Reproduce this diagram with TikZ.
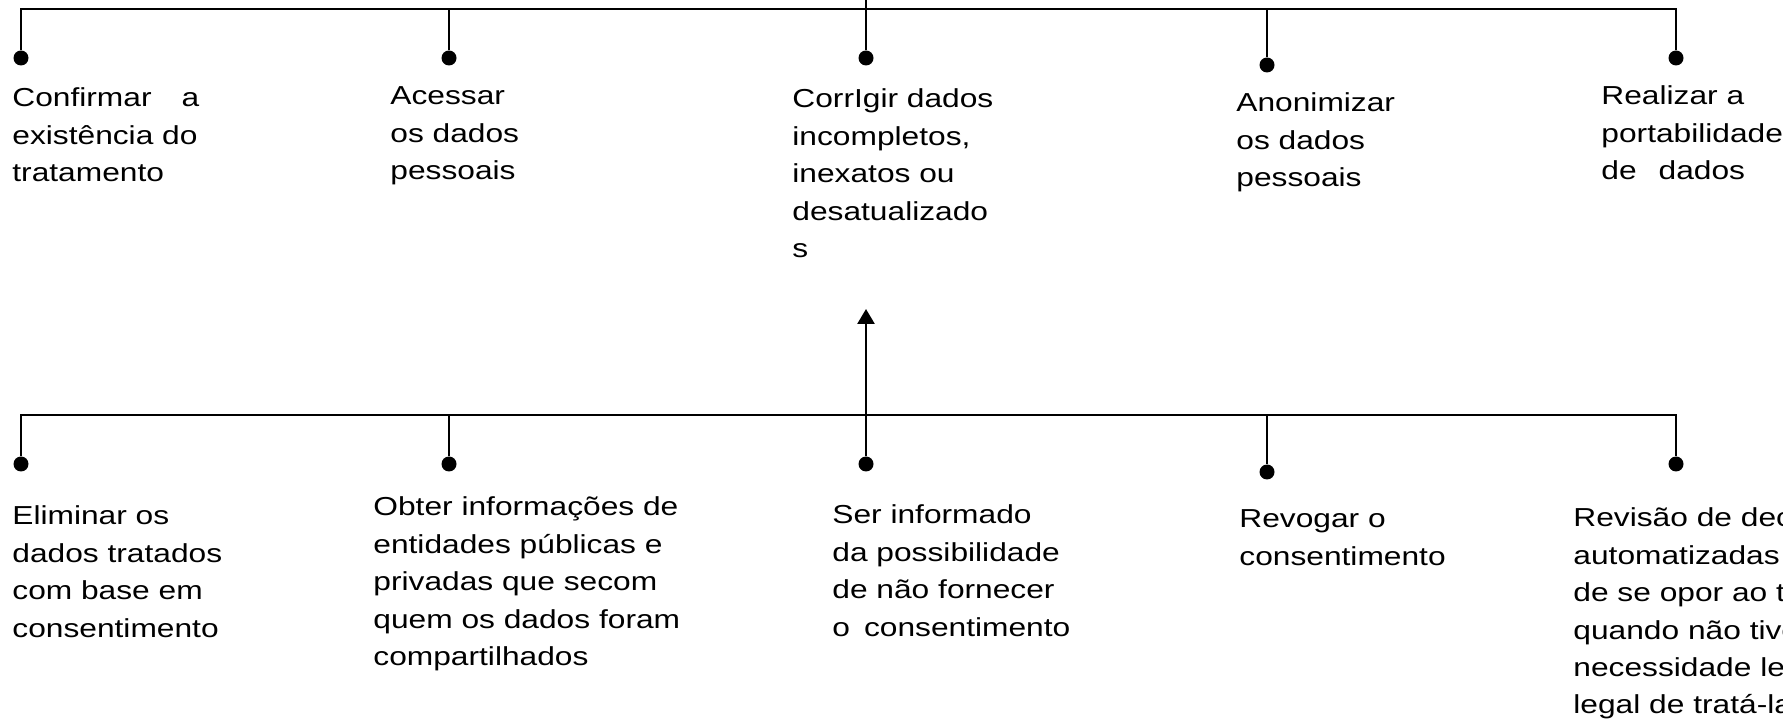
\documentclass[tikz,border=0pt]{standalone}
\usepackage{fontspec}
\setmainfont{Liberation Sans}[FakeStretch=1.22]
\usetikzlibrary{arrows.meta}
\newcommand{\lines}[1]{\begin{tabular}[t]{@{}l@{}}#1\end{tabular}}

\begin{document}
\begin{tikzpicture}[x=0.5pt,y=-0.5pt,
  bus/.style={line width=1.35pt,line cap=rect},
  stem/.style={line width=1pt},
  dot/.style={circle,fill=black,inner sep=0pt,minimum size=7.5pt},
  txt/.style={anchor=base west,inner sep=0pt,
    font=\fontsize{13pt}{18.7pt}\selectfont},
  arr/.style={-{Triangle[length=7.5pt,width=8.5pt]},line width=1.35pt}]
\useasboundingbox (0,0) rectangle (1783,726);
\clip (0,0) rectangle (1783,726);
% upper row
\coordinate (top) at (866,0);
\coordinate (t1) at (21,9);
\coordinate (t2) at (449,9);
\coordinate (t3) at (866,9);
\coordinate (t4) at (1267,9);
\coordinate (t5) at (1676,9);
\node[dot] (dt1) at (21,58) {};
\node[dot] (dt2) at (449,58) {};
\node[dot] (dt3) at (866,58) {};
\node[dot] (dt4) at (1267,65) {};
\node[dot] (dt5) at (1676,58) {};
\node[txt] (confirmar) at (12,107) {\lines{Confirmar\hspace{15pt}a\\existência do\\tratamento}};
\node[txt] (acessar) at (390,105) {\lines{Acessar\\os dados\\pessoais}};
\node[txt] (corrigir) at (792,108) {\lines{CorrIgir dados\\incompletos,\\inexatos ou\\desatualizado\\s}};
\node[txt] (anonimizar) at (1236,112) {\lines{Anonimizar\\os dados\\pessoais}};
\node[txt] (portabilidade) at (1601,105) {\lines{Realizar a\\portabilidade\\de\hspace{11pt}dados}};
\draw[bus] (t1) -- (t5);
\draw[stem] (top) -- (dt3);
\draw[stem] (t1) -- (dt1);
\draw[stem] (t2) -- (dt2);
\draw[stem] (t4) -- (dt4);
\draw[stem] (t5) -- (dt5);
% lower row
\coordinate (tip) at (866,309);
\coordinate (b1) at (21,415);
\coordinate (b2) at (449,415);
\coordinate (b3) at (866,415);
\coordinate (b4) at (1267,415);
\coordinate (b5) at (1676,415);
\node[dot] (db1) at (21,464) {};
\node[dot] (db2) at (449,464) {};
\node[dot] (db3) at (866,464) {};
\node[dot] (db4) at (1267,472) {};
\node[dot] (db5) at (1676,464) {};
\node[txt] (eliminar) at (12,525) {\lines{Eliminar os\\dados tratados\\com base em\\consentimento}};
\node[txt] (obter) at (373,516) {\lines{Obter informações de\\entidades públicas e\\privadas que secom\\quem os dados foram\\compartilhados}};
\node[txt] (informado) at (832,524) {\lines{Ser informado\\da possibilidade\\de não fornecer\\o\hspace{7pt}consentimento}};
\node[txt] (revogar) at (1239,528) {\lines{Revogar o\\consentimento}};
\node[txt] (revisao) at (1573,527) {\lines{Revisão de decisões\\automatizadas e\\de se opor ao tratamento\\quando não tiver\\necessidade legítima ou\\legal de tratá-la}};
\draw[bus] (b1) -- (b5);
\draw[arr] (b3) -- (tip);
\draw[stem] (b1) -- (db1);
\draw[stem] (b2) -- (db2);
\draw[stem] (b3) -- (db3);
\draw[stem] (b4) -- (db4);
\draw[stem] (b5) -- (db5);
\end{tikzpicture}
\end{document}
